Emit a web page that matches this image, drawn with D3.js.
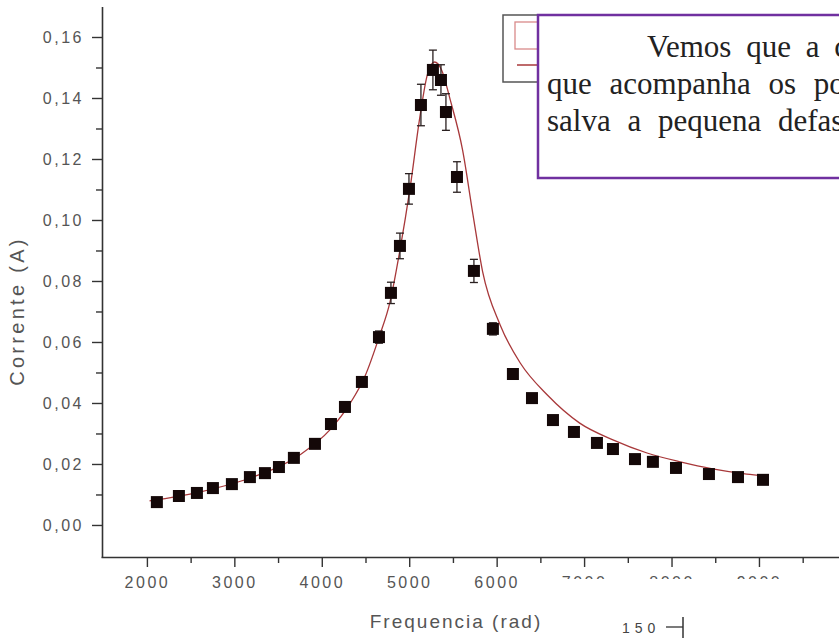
<!DOCTYPE html>
<html>
<head>
<meta charset="utf-8">
<script src="https://cdn.jsdelivr.net/npm/d3@7"></script>
<style>
  body { margin: 0; background: #fff; }
  svg { display: block; }
</style>
</head>
<body>
<svg width="839" height="638"></svg>
<script>
// measured points (frequency in rad, current in A, error in A)
const freq = [2114, 2366, 2572, 2755, 2972, 3178, 3350, 3510, 3681, 3922, 4105, 4265,
  4459, 4654, 4791, 4894, 4997, 5134, 5271, 5363, 5420, 5546, 5740, 5957, 6186, 6404,
  6644, 6884, 7147, 7330, 7582, 7787, 8051, 8428, 8760, 9046];
const corrente = [0.0075, 0.0095, 0.0105, 0.0121, 0.0134, 0.0157, 0.0170, 0.0190, 0.0220, 0.0266, 0.0331, 0.0387,
  0.0469, 0.0616, 0.0761, 0.0915, 0.1102, 0.1377, 0.1492, 0.1459, 0.1354, 0.1141, 0.0833, 0.0643, 0.0495, 0.0416,
  0.0344, 0.0305, 0.0269, 0.0249, 0.0216, 0.0207, 0.0187, 0.0167, 0.0157, 0.0148];
const erro = [0.0008, 0.0008, 0.0008, 0.0008, 0.0008, 0.0008, 0.0008, 0.0008, 0.0008, 0.0008, 0.0008, 0.0008,
  0.0015, 0.0020, 0.0035, 0.0042, 0.0050, 0.0068, 0.0065, 0.0050, 0.0060, 0.0050, 0.0038, 0.0020, 0.0015, 0.0008,
  0.0008, 0.0008, 0.0008, 0.0008, 0.0008, 0.0008, 0.0008, 0.0008, 0.0008, 0.0008];

// fitted curve
const fitFreq = [2030, 2600, 3180, 3750, 4090, 4320, 4490, 4660, 4780, 4890, 5010, 5120, 5210, 5290,
  5370, 5470, 5610, 5730, 5840, 6040, 6270, 6580, 6950, 7330, 7720, 8100, 8470, 8860, 9070];
const fitCorrente = [0.0079, 0.0108, 0.0154, 0.0230, 0.0311, 0.0397, 0.0485, 0.0620, 0.0731, 0.0895, 0.1105, 0.1334, 0.1479, 0.1518,
  0.1492, 0.1393, 0.1230, 0.1016, 0.0830, 0.0656, 0.0531, 0.0426, 0.0334, 0.0279, 0.0236, 0.0207, 0.0184, 0.0167, 0.0161];

const yTicks = [0, 0.02, 0.04, 0.06, 0.08, 0.10, 0.12, 0.14, 0.16];
const yMinor = [0.01, 0.03, 0.05, 0.07, 0.09, 0.11, 0.13, 0.15];
const xTicks = [2000, 3000, 4000, 5000, 6000, 7000, 8000, 9000];
const xMinor = [2500, 3500, 4500, 5500, 6500, 7500, 8500, 9500];

const textLines = ["Vemos que a curva", "que acompanha os pontos", "salva a pequena defasagem"];

const svg = d3.select('svg');

const x = d3.scaleLinear().domain([1475, 10000]).range([101, 846.4]);
const y = d3.scaleLinear().domain([-0.0105, 0.17]).range([557, 6.5]);

const fmt = d => d3.format('.2f')(d).replace('.', ',');
const axisColor = '#333';
const labelColor = '#555';
const sans = 'Liberation Sans, Arial, sans-serif';

// y axis
const gy = svg.append('g').attr('transform', 'translate(102,0)');
gy.call(d3.axisLeft(y).tickValues(yTicks).tickFormat(fmt).tickSize(10).tickPadding(8).tickSizeOuter(0));
gy.append('g').call(d3.axisLeft(y).tickValues(yMinor).tickFormat('').tickSize(6).tickSizeOuter(0))
  .select('.domain').remove();

// x axis
const gx = svg.append('g').attr('transform', 'translate(0,557)');
gx.call(d3.axisBottom(x).tickValues(xTicks).tickFormat(d => d).tickSize(10).tickPadding(10).tickSizeOuter(0));
gx.append('g').call(d3.axisBottom(x).tickValues(xMinor).tickFormat('').tickSize(6).tickSizeOuter(0))
  .select('.domain').remove();

svg.selectAll('.domain').attr('stroke', axisColor).attr('stroke-width', 1.6);
svg.selectAll('.tick line').attr('stroke', axisColor).attr('stroke-width', 1.4);
svg.selectAll('.tick text')
  .attr('fill', labelColor)
  .style('font-family', sans)
  .style('font-size', '16px')
  .style('letter-spacing', '2.5px');

// axis titles
svg.append('text')
  .attr('transform', 'translate(24,311) rotate(-90)')
  .attr('text-anchor', 'middle')
  .attr('fill', labelColor)
  .style('font-family', sans)
  .style('font-size', '20px')
  .style('letter-spacing', '3.3px')
  .text('Corrente (A)');

svg.append('text')
  .attr('x', 456).attr('y', 628)
  .attr('text-anchor', 'middle')
  .attr('fill', labelColor)
  .style('font-family', sans)
  .style('font-size', '19px')
  .style('letter-spacing', '2px')
  .text('Frequencia (rad)');

// fit line
const fit = fitFreq.map((f, i) => [f, fitCorrente[i]]);
svg.append('path')
  .datum(fit)
  .attr('fill', 'none')
  .attr('stroke', '#a8383a')
  .attr('stroke-width', 1.3)
  .attr('d', d3.line().x(d => x(d[0])).y(d => y(d[1])).curve(d3.curveMonotoneX));

// error bars
const pts = freq.map((f, i) => ({f: f, c: corrente[i], e: erro[i]}));
const eb = svg.append('g').attr('stroke', '#2a2020').attr('stroke-width', 1.3);
pts.forEach(p => {
  const cx = x(p.f);
  eb.append('line').attr('x1', cx).attr('x2', cx).attr('y1', y(p.c - p.e)).attr('y2', y(p.c + p.e));
  eb.append('line').attr('x1', cx - 4).attr('x2', cx + 4).attr('y1', y(p.c + p.e)).attr('y2', y(p.c + p.e));
  eb.append('line').attr('x1', cx - 4).attr('x2', cx + 4).attr('y1', y(p.c - p.e)).attr('y2', y(p.c - p.e));
});

// markers
const s = 12;
svg.append('g').selectAll('rect')
  .data(pts)
  .join('rect')
  .attr('x', d => x(d.f) - s / 2)
  .attr('y', d => y(d.c) - s / 2)
  .attr('width', s).attr('height', s)
  .attr('fill', '#140808');

// white patch hiding the lower tick labels on the right
svg.append('rect')
  .attr('x', 548).attr('y', 579).attr('width', 320).attr('height', 70)
  .attr('fill', '#fff');

// piece of the next figure below
svg.append('text')
  .attr('x', 622).attr('y', 633)
  .attr('fill', '#444')
  .style('font-family', sans)
  .style('font-size', '14px')
  .style('letter-spacing', '5px')
  .text('150');
svg.append('line').attr('x1', 666).attr('x2', 683).attr('y1', 627).attr('y2', 627)
  .attr('stroke', '#333').attr('stroke-width', 1.3);
svg.append('line').attr('x1', 683).attr('x2', 683).attr('y1', 617).attr('y2', 640)
  .attr('stroke', '#333').attr('stroke-width', 1.5);

// legend box (partly behind the text box)
const lg = svg.append('g');
lg.append('rect').attr('x', 503).attr('y', 15).attr('width', 60).attr('height', 67)
  .attr('fill', '#fff').attr('stroke', '#555').attr('stroke-width', 1.5);
lg.append('rect').attr('x', 515).attr('y', 22).attr('width', 30).attr('height', 27)
  .attr('fill', 'none').attr('stroke', '#d98a8a').attr('stroke-width', 1.3);
lg.append('line').attr('x1', 517).attr('x2', 560).attr('y1', 65).attr('y2', 65)
  .attr('stroke', '#a8383a').attr('stroke-width', 1.3);

// text box (runs off the right edge, as in the source)
const tb = svg.append('g');
tb.append('rect').attr('x', 538).attr('y', 15).attr('width', 320).attr('height', 163)
  .attr('fill', '#fff').attr('stroke', '#7030a0').attr('stroke-width', 2.5);
tb.selectAll('text')
  .data(textLines)
  .join('text')
  .attr('x', (d, i) => i === 0 ? 647 : 547)
  .attr('y', (d, i) => 57 + i * 37)
  .attr('fill', '#222')
  .style('font-family', 'Liberation Serif, Times New Roman, serif')
  .style('font-size', '31px')
  .style('word-spacing', (d, i) => i === 0 ? '7px' : (i === 1 ? '10px' : '9px'))
  .text(d => d);
</script>
</body>
</html>
